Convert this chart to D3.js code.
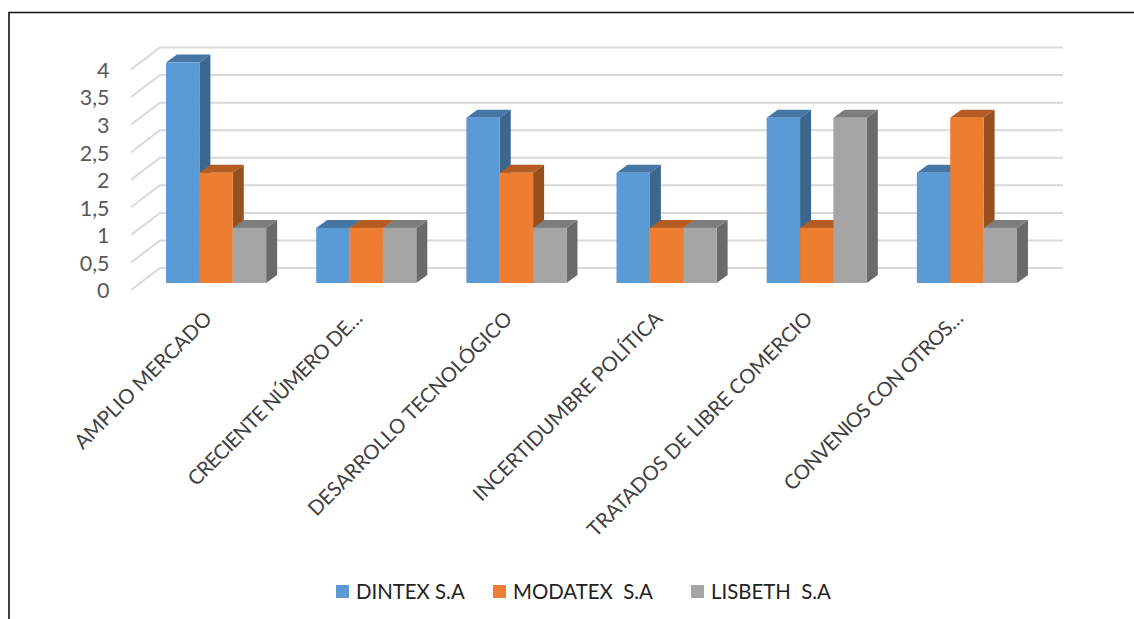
<!DOCTYPE html>
<html>
<head>
<meta charset="utf-8">
<script src="https://cdnjs.cloudflare.com/ajax/libs/d3/7.8.5/d3.min.js"></script>
<style>
  html, body { margin: 0; padding: 0; background: #fff; }
  svg { display: block; font-family: Lato, "Open Sans", sans-serif; }
  text { white-space: pre; }
</style>
</head>
<body>
<div id="vizholder"></div>
<script>
var categories = ["AMPLIO MERCADO", "CRECIENTE NÚMERO DE…", "DESARROLLO TECNOLÓGICO", "INCERTIDUMBRE POLÍTICA", "TRATADOS DE LIBRE COMERCIO", "CONVENIOS CON OTROS…"];
var seriesNames = ["DINTEX S.A", "MODATEX  S.A", "LISBETH  S.A"];
var dintex = [4, 1, 3, 2, 3, 2];
var modatex = [2, 1, 2, 1, 1, 3];
var lisbeth = [1, 1, 1, 1, 3, 1];
var yTicks = [0, 0.5, 1, 1.5, 2, 2.5, 3, 3.5, 4];

var faceColors = ["#5B9BD5", "#ED7D31", "#A5A5A5"];
var topColors = ["#4676A3", "#B45C22", "#7D7D7D"];
var sideColors = ["#3B668E", "#96501E", "#6A6A6A"];
var legendX = [336, 493, 691];

var width = 1134, height = 619;
var depthX = 11, depthY = 8;

var svg = d3.select("#vizholder").append("svg")
	.attr("width", width)
	.attr("height", height);

// page frame
svg.append("path")
	.attr("d", "M9,619V12.5H1134")
	.attr("fill", "none")
	.attr("stroke", "#111")
	.attr("stroke-width", 1.6);

var x0 = d3.scaleBand()
	.domain(categories)
	.range([141, 1042])
	.paddingInner(1 / 3)
	.paddingOuter(1 / 6);

var x1 = d3.scaleBand()
	.domain(seriesNames)
	.range([0, x0.bandwidth()]);

var y = d3.scaleLinear()
	.domain([0, 4])
	.range([283, 62.5]);

// gridlines, floor side then back wall
svg.append("g").selectAll("path")
	.data(yTicks)
	.enter().append("path")
	.attr("d", function(d){
		return "M131," + (y(d) + 7) + "L160," + (y(d) - 15) + "H1063";
	})
	.attr("fill", "none")
	.attr("stroke", "#D9D9D9")
	.attr("stroke-width", 2);

// y axis
var yAxisScale = y.copy().range([291, 70.5]);
var yAxis = svg.append("g")
	.attr("transform", "translate(109.5,0)")
	.call(d3.axisLeft(yAxisScale)
		.tickValues(yTicks)
		.tickSize(0)
		.tickPadding(0)
		.tickFormat(function(d){ return String(d).replace(".", ","); }));
yAxis.select(".domain").remove();
yAxis.selectAll("text")
	.attr("font-family", "Lato, 'Open Sans', sans-serif")
	.attr("font-size", 21.5)
	.attr("fill", "#595959");

// bars
var allValues = [dintex, modatex, lisbeth];
var group = svg.append("g").selectAll("g")
	.data(categories)
	.enter().append("g")
	.attr("transform", function(d){ return "translate(" + x0(d) + ",0)"; });

group.each(function(cat, ci){
	var g = d3.select(this);
	seriesNames.forEach(function(name, si){
		var v = allValues[si][ci];
		var left = x1(name), w = x1.bandwidth();
		var right = left + w, top = y(v), bottom = y(0);

		// side
		g.append("path")
			.attr("d", "M" + right + "," + top + "l" + depthX + "," + (-depthY) + "V" + (bottom - depthY) + "l" + (-depthX) + "," + depthY + "Z")
			.attr("fill", sideColors[si]);
		// top
		g.append("path")
			.attr("d", "M" + left + "," + top + "l" + depthX + "," + (-depthY) + "H" + (right + depthX) + "l" + (-depthX) + "," + depthY + "Z")
			.attr("fill", topColors[si]);
		// front
		g.append("rect")
			.attr("x", left)
			.attr("y", top)
			.attr("width", w)
			.attr("height", bottom - top)
			.attr("fill", faceColors[si]);
	});
});

// category labels, the cut off ones run a bit tighter
svg.append("g").selectAll("text")
	.data(categories)
	.enter().append("text")
	.attr("transform", function(d){
		return "translate(" + (x0(d) + x0.bandwidth() / 2 - 8) + ",315) rotate(-45)";
	})
	.attr("text-anchor", "end")
	.attr("dy", "0.35em")
	.attr("font-size", 20.3)
	.attr("letter-spacing", function(d){ return d.slice(-1) == "…" ? -0.7 : 0; })
	.attr("fill", "#404040")
	.text(function(d){ return d; });

// legend
var legend = svg.append("g").selectAll("g")
	.data(seriesNames)
	.enter().append("g")
	.attr("transform", function(d, i){ return "translate(" + legendX[i] + ",585)"; });

legend.append("rect")
	.attr("width", 13)
	.attr("height", 13)
	.attr("fill", function(d, i){ return faceColors[i]; });

legend.append("text")
	.attr("x", 20)
	.attr("y", 13.5)
	.attr("font-size", 20.4)
	.attr("fill", "#222")
	.text(function(d){ return d; });
</script>
</body>
</html>
